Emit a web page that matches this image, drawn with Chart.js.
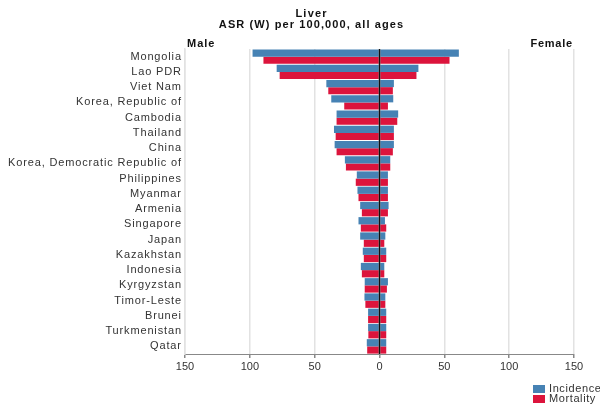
<!DOCTYPE html>
<html><head><meta charset="utf-8">
<script src="https://cdn.jsdelivr.net/npm/chart.js@4.4.1/dist/chart.umd.min.js"></script>
<style>html,body{margin:0;padding:0;background:#fff}#wrap{width:600px;height:406px;position:relative}</style>
</head><body><div id="wrap"><canvas id="c"></canvas></div>
<script>
const countries = ["Mongolia","Lao PDR","Viet Nam","Korea, Republic of","Cambodia","Thailand","China","Korea, Democratic Republic of","Philippines","Myanmar","Armenia","Singapore","Japan","Kazakhstan","Indonesia","Kyrgyzstan","Timor-Leste","Brunei","Turkmenistan","Qatar"];
const incidenceMale   = [97.9,79.3,41.0,37.2,33.1,35.1,34.6,26.7,17.5,17.0,14.9,16.2,14.9,12.9,14.4,11.4,11.6,8.8,8.8,9.8];
const mortalityMale   = [89.5,77.0,39.5,27.2,33.1,33.8,33.1,25.9,18.3,16.2,13.6,14.4,12.1,12.1,13.6,11.4,10.9,8.8,8.6,9.5];
const incidenceFemale = [61.2,30.0,11.1,10.6,14.4,11.1,11.1,8.3,6.5,6.5,7.0,4.2,4.5,5.2,3.7,6.5,4.5,5.2,5.2,5.2];
const mortalityFemale = [54.0,28.5,10.3,6.5,13.7,11.1,10.3,8.3,6.5,6.5,6.5,5.2,3.7,5.2,3.7,5.7,4.5,5.2,5.2,5.2];
const xTicks = [-150,-100,-50,0,50,100,150];

const BLUE = '#4682B4', RED = '#DC143C';
const FONT = 'Arial, "Liberation Sans", sans-serif';

function spacedText(ctx, text, x, y, spacing, align) {
  ctx.save();
  ctx.letterSpacing = spacing + 'px';
  ctx.textAlign = align;
  let dx = 0;
  if (align === 'right') dx = spacing;
  else if (align === 'center') dx = spacing / 2;
  ctx.fillText(text, x + dx, y);
  ctx.restore();
}

const overlay = {
  id: 'overlay',
  afterDatasetsDraw(chart) {
    const {ctx, chartArea, scales} = chart;
    const x0 = scales.x.getPixelForValue(0);
    ctx.save();
    ctx.strokeStyle = '#111';
    ctx.lineWidth = 1.5;
    ctx.beginPath();
    ctx.moveTo(x0, chartArea.top);
    ctx.lineTo(x0, chartArea.bottom);
    ctx.stroke();
    ctx.restore();
  },
  afterDraw(chart) {
    const {ctx, chartArea, scales} = chart;
    ctx.save();
    ctx.textBaseline = 'middle';
    ctx.fillStyle = '#333';
    ctx.font = '11px ' + FONT;
    chart.data.labels.forEach((lab, i) => {
      spacedText(ctx, lab, chartArea.left - 4, scales.y.getPixelForValue(i), 0.85, 'right');
    });
    ctx.fillStyle = '#111';
    ctx.font = 'bold 11px ' + FONT;
    spacedText(ctx, 'Liver', 311, 14, 1.2, 'center');
    spacedText(ctx, 'ASR (W) per 100,000, all ages', 311, 24.5, 1.1, 'center');
    spacedText(ctx, 'Male', chartArea.left + 2, 44, 1.0, 'left');
    spacedText(ctx, 'Female', chartArea.right - 2, 44, 0.7, 'right');
    ctx.font = '11px ' + FONT;
    ctx.fillStyle = BLUE; ctx.fillRect(533, 385, 12, 8);
    ctx.fillStyle = RED; ctx.fillRect(533, 395, 12, 8);
    ctx.fillStyle = '#333';
    spacedText(ctx, 'Incidence', 549, 389, 0.6, 'left');
    spacedText(ctx, 'Mortality', 549, 399, 0.6, 'left');
    ctx.restore();
  }
};

const ds = (label, data, color, stack, neg) => ({
  label, stack,
  data: data.map(v => neg ? -v : v),
  backgroundColor: color,
  borderWidth: 0,
  categoryPercentage: 0.95,
  barPercentage: 1.0
});

new Chart(document.getElementById('c'), {
  type: 'bar',
  data: {
    labels: countries,
    datasets: [
      ds('Incidence', incidenceMale, BLUE, 'inc', true),
      ds('Incidence', incidenceFemale, BLUE, 'inc', false),
      ds('Mortality', mortalityMale, RED, 'mort', true),
      ds('Mortality', mortalityFemale, RED, 'mort', false)
    ]
  },
  options: {
    indexAxis: 'y',
    responsive: true,
    maintainAspectRatio: false,
    animation: false,
    layout: {padding: {top: 49, right: 26, bottom: 0, left: 0}},
    plugins: {legend: {display: false}, tooltip: {enabled: false}, title: {display: false}},
    scales: {
      x: {
        stacked: true,
        min: -150, max: 150,
        afterBuildTicks(s) { s.ticks = xTicks.map(v => ({value: v})); },
        afterFit(s) { s.height = 52; },
        ticks: {
          callback: v => Math.abs(v),
          color: '#333',
          font: {family: FONT, size: 11},
          padding: 2,
          maxRotation: 0
        },
        grid: {
          color: c => (c.tick && c.tick.value === 0) ? 'rgba(0,0,0,0)' : '#e2e2e2',
          lineWidth: 1.5,
          tickLength: 4,
          tickColor: '#888'
        },
        border: {display: true, color: '#888', width: 1}
      },
      y: {
        stacked: true,
        afterFit(s) { s.width = 185; },
        ticks: { display: false, autoSkip: false },
        grid: {display: false},
        border: {display: true, color: '#e2e2e2', width: 1.5}
      }
    }
  },
  plugins: [overlay]
});
</script></body></html>
